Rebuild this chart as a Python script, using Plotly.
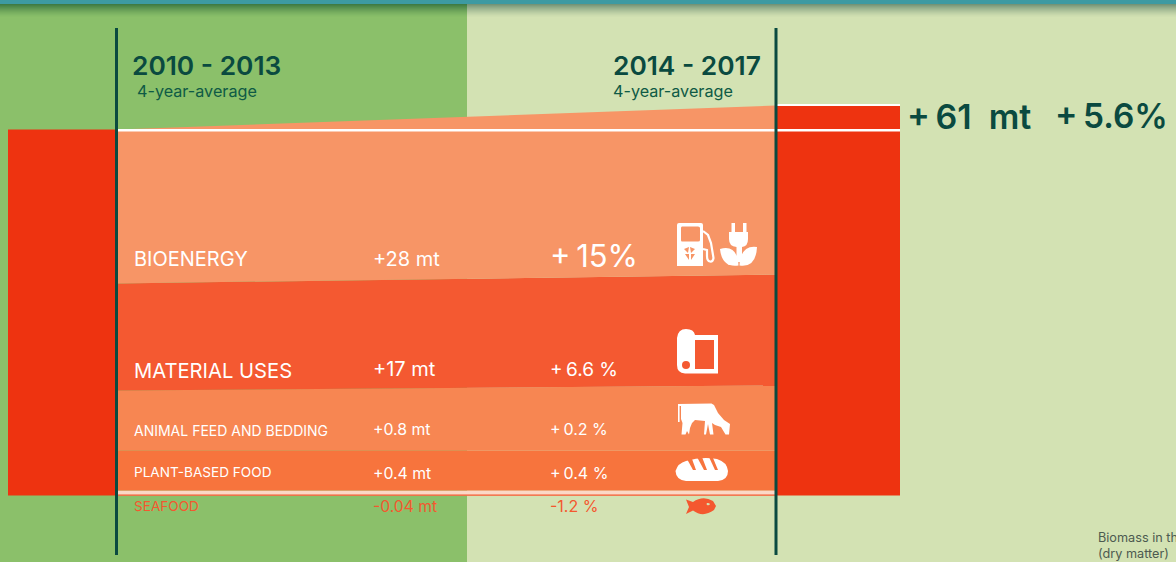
import plotly.graph_objects as go

# ---- data (band thickness, picture units, bottom to top) ----
categories = ["SEAFOOD", "PLANT-BASED FOOD", "ANIMAL FEED AND BEDDING", "MATERIAL USES", "BIOENERGY"]
period_1_values = [5, 40, 60, 107, 154]
period_2_values = [5, 40, 65, 111, 169]
mt_labels = ["-0.04 mt", "+0.4 mt", "+0.8 mt", "+17 mt", "+28 mt"]
pct_labels = ["-1.2 %", "+\u20090.4 %", "+\u20090.2 %", "+\u20096.6 %", "+\u200915%"]
periods = ["2010 - 2013", "2014 - 2017"]
period_note = "4-year-average"
total_labels = ["+\u200961\u2002mt", "+\u20095.6%"]
note_lines = ["Biomass in the", "(dry matter)"]

# ---- styles / layout ----
band_colors = ["#fbd8c6", "#f7743d", "#f78652", "#f45931", "#f79566"]
RED = "#ee3310"; DARK = "#0a4a40"; LIGHT = "#d3e2b3"; GREEN = "#8bc06a"; TEAL = "#3d9aa2"; ORANGE = "#f4582f"
W, H = 1176, 562
BASE = 495.5
FONT = "Inter"
X_L, X_R = 118, 776


def Y(py):
    return BASE - py


fig = go.Figure()
tot1, tot2 = sum(period_1_values), sum(period_2_values)

# red end bars
fig.add_trace(go.Bar(x=[62], y=[tot1], width=[108], marker=dict(color=RED, line_width=0), hoverinfo="skip"))
fig.add_trace(go.Bar(x=[838], y=[tot2], width=[124], marker=dict(color=RED, line_width=0), hoverinfo="skip"))

# flow bands
lo1 = lo2 = 0
for name, a, b, c in zip(categories, period_1_values, period_2_values, band_colors):
    fig.add_trace(go.Scatter(x=[X_L, X_R, X_R, X_L, X_L], y=[lo1, lo2, lo2 + b, lo1 + a, lo1], mode="lines",
                             fill="toself", fillcolor=c, line=dict(width=0), name=name, hoverinfo="skip"))
    lo1 += a
    lo2 += b

shapes = []


def rect(x0, y0, x1, y1, color, layer="below"):
    shapes.append(dict(type="rect", x0=x0, x1=x1, y0=Y(y0), y1=Y(y1), fillcolor=color, line_width=0, layer=layer))


def path(pts, color, close=True, line=0):
    if isinstance(pts[0], str):
        d = " ".join(p if isinstance(p, str) else f"{p[0]},{Y(p[1])}" for p in pts)
    else:
        d = " ".join(("M " if i == 0 else "L ") + f"{p[0]},{Y(p[1])}" for i, p in enumerate(pts))
    if close:
        d += " Z"
    s = dict(type="path", path=d, layer="above")
    if close:
        s.update(fillcolor=color, line_width=line, line_color=color)
    else:
        s.update(line=dict(color=color, width=line))
    shapes.append(s)


# background
rect(0, 0, 467, H, GREEN)
rect(467, 0, W, H, LIGHT)
for i in range(13):
    a = 0.85 * (1 - i / 13) ** 1.4
    rect(0, 4 + i, 467, 5 + i, f"rgba(50,110,60,{a:.3f})")
    rect(467, 4 + i, W, 5 + i, f"rgba(70,110,90,{a * 0.8:.3f})")
rect(0, 0, W, 4, TEAL)

# white separators and seafood rule
rect(X_L, 129, 900, 131.5, "#ffffff", "above")
rect(X_R, 104, 900, 106, "#ffffff", "above")
rect(X_L, 494.5, X_R, 495.8, ORANGE, "above")

# vertical period rules
for xv in (116.5, 776):
    rect(xv - 1.5, 28, xv + 1.5, 555, DARK, "above")

# --- icons ---
WHITE = "#ffffff"
# fuel pump
path(["M", (679, 223), "L", (701, 223), "Q", (703, 223), (703, 225), "L", (703, 266), "L", (677, 266), "L", (677, 225), "Q", (677, 223), (679, 223)], WHITE)
path(["M", (682, 226.5), "L", (698, 226.5), "Q", (700, 226.5), (700, 228), "L", (700, 240), "Q", (700, 241.5), (698, 241.5), "L", (682, 241.5), "Q", (681, 241.5), (681, 240), "L", (681, 228), "Q", (681, 226.5), (682, 226.5)], "#f79566")
path(["M", (690, 247), "L", (695, 249), "L", (691, 253), "Z M", (689, 247), "L", (684, 249), "L", (688, 253), "Z M", (685, 254), "L", (689, 254), "L", (689, 260), "Z M", (695, 254), "L", (691, 254), "L", (691, 260)], "#f79566")
path(["M", (703, 231), "L", (708, 235), "L", (711, 243), "L", (713.5, 258), "Q", (713, 262), (710, 261.5), "Q", (707, 261), (707, 256), "L", (707, 250), "L", (703, 249)], WHITE, close=False, line=2.2)
# plant plug
rect(731.5, 223, 735, 233, WHITE, "above")
rect(743, 223, 746.5, 233, WHITE, "above")
path(["M", (729, 232), "L", (748, 232), "L", (748, 239), "Q", (748, 246.5), (742, 247), "L", (742, 262), "L", (736.5, 262), "L", (736.5, 247), "Q", (729, 246.5), (729, 239)], WHITE)
path(["M", (720, 249), "Q", (734, 245), (738, 259), "L", (738.5, 265.5), "Q", (722, 268), (720, 249)], WHITE)
path(["M", (757, 247), "Q", (744, 245), (740, 259), "L", (739.5, 265.5), "Q", (756, 268), (757, 247)], WHITE)
# material roll
path(["M", (677, 338), "Q", (678, 329), (686, 329), "Q", (694, 329), (695, 335), "L", (718, 335), "L", (718, 373.5), "L", (685, 373.5), "Q", (677, 373), (677, 365)], WHITE)
rect(695, 340, 714, 369, "#f45931", "above")
path(["M", (682, 365), "Q", (682, 361), (686, 361), "Q", (690, 361), (690, 365), "Q", (690, 369), (686, 369), "Q", (682, 369), (682, 365)], "#f45931")
# cow
path([(678, 404), (711.5, 403.5), (714, 405), (718, 413), (724, 420), (730, 424), (729, 434.5), (725.5, 434.5), (721, 427), (715, 425), (712, 423),
      (713.5, 434.5), (710, 434.5), (708, 424), (706, 434.5), (704, 434.5), (705, 421), (695, 420), (692, 423), (690, 428), (689, 434.5), (687, 431), (685.5, 434.5), (681.5, 434.5), (682.5, 423), (681, 419), (681, 406), (679.6, 406), (679.6, 422), (678, 422)], WHITE)
# bread
path(["M", (675.5, 471), "Q", (678, 463), (686, 461), "Q", (702, 456), (717, 459), "Q", (727, 462), (728, 471), "Q", (728, 480), (718, 481), "L", (686, 481), "Q", (676, 480), (675.5, 471)], WHITE)
path([(687, 459), (692, 459), (696, 470), (693, 470)], "#f7743d")
path([(697, 457), (702, 457), (707, 470), (704, 470)], "#f7743d")
path([(709, 457), (713, 458), (718, 470), (715, 470)], "#f7743d")
# fish
path(["M", (686, 499.5), "L", (693, 502), "Q", (703, 495), (713, 501), "L", (716, 506), "L", (714, 510), "Q", (703, 518), (693, 510.5), "L", (686, 514), "L", (689, 507)], ORANGE)
path(["M", (707, 503), "Q", (709, 502.5), (710, 504), "Q", (709, 506), (707, 505), "Q", (706, 504), (707, 503)], LIGHT)

# --- text ---
ann = []


def text(x, py, s, size, color=WHITE, weight=None, anchor="left"):
    f = dict(family=FONT, size=size, color=color)
    if weight:
        f["weight"] = weight
    ann.append(dict(x=x, y=Y(py), text=s, showarrow=False, xanchor=anchor, yanchor="middle", font=f, borderpad=0, xref="x", yref="y"))


text(131, 65.5, periods[0], 26.3, DARK, 600)
text(612, 65.5, periods[1], 26.3, DARK, 600)
text(135.5, 90.5, period_note, 16.2, "#0f5a45")
text(612, 90.5, period_note, 16.2, "#0f5a45")
text(906, 116, total_labels[0], 34, DARK, 600)
text(1054, 116, total_labels[1], 33.4, DARK, 600)
text(1097, 537, note_lines[0], 12.7, "#4c5a50")
text(1097, 553, note_lines[1], 12.7, "#4c5a50")

name_sizes = [13.6, 13.6, 14, 20.2, 20]
name_y = [506, 472, 430, 370, 259]
mt_sizes = [15.7, 15.8, 15.8, 20, 20]
mt_y = [506, 473, 429, 369, 259]
pct_sizes = [16, 16, 16, 19, 31]
pct_y = [506, 473, 429, 369, 255]
label_colors = [ORANGE, WHITE, WHITE, WHITE, WHITE]
for i in range(5):
    text(133, name_y[i], categories[i], name_sizes[i], label_colors[i])
    text(372, mt_y[i], mt_labels[i], mt_sizes[i], label_colors[i])
    text(549, pct_y[i], pct_labels[i], pct_sizes[i], label_colors[i])

fig.update_layout(
    width=W, height=H, margin=dict(l=0, r=0, t=0, b=0), showlegend=False,
    paper_bgcolor=LIGHT, plot_bgcolor=LIGHT, barmode="overlay", shapes=shapes, annotations=ann,
    xaxis=dict(range=[0, W], visible=False, fixedrange=True),
    yaxis=dict(range=[Y(H), Y(0)], visible=False, fixedrange=True),
)
fig.write_html("out.html", config={"displayModeBar": False, "responsive": False},
               post_script="document.body.style.margin='0';document.documentElement.style.overflow='hidden';")
